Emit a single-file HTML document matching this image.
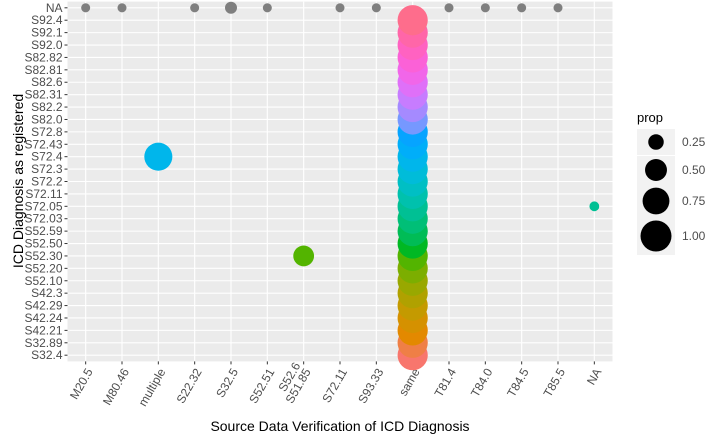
<!DOCTYPE html>
<html><head><meta charset="utf-8"><style>
body{margin:0;background:#fff;}
svg{display:block;font-family:"Liberation Sans",Arial,sans-serif;}
</style></head><body>
<svg id="chart" width="709" height="439"></svg>
<script>
const xCats=["M20.5","M80.46","multiple","S22.32","S32.5","S52.51","S52.6\nS51.85","S72.11","S93.33","same","T81.4","T84.0","T84.5","T85.5","NA"];
const yCats=["S32.4","S32.89","S42.21","S42.24","S42.29","S42.3","S52.10","S52.20","S52.30","S52.50","S52.59","S72.03","S72.05","S72.11","S72.2","S72.3","S72.4","S72.43","S72.8","S82.0","S82.2","S82.31","S82.6","S82.81","S82.82","S92.0","S92.1","S92.4","NA"];
const ptX=["M20.5","M80.46","S22.32","S32.5","S52.51","S72.11","S93.33","T81.4","T84.0","T84.5","T85.5","multiple","S52.6\nS51.85","NA"];
const ptY=["NA","NA","NA","NA","NA","NA","NA","NA","NA","NA","NA","S72.4","S52.30","S72.05"];
const ptProp=[0.085,0.085,0.085,0.15,0.085,0.085,0.085,0.085,0.085,0.085,0.085,0.82,0.45,0.1];
const sameProp=[0.95,0.95,0.95,0.95,0.95,0.95,0.95,0.95,0.95,0.95,0.95,0.95,0.95,0.95,0.95,0.95,0.95,0.95,0.95,0.95,0.95,0.95,0.95,0.95,0.95,0.95,0.95,0.95];
const legendVals=[0.25,0.5,0.75,1.0];

const NS="http://www.w3.org/2000/svg";
const svg=document.getElementById('chart');
const L=67.5,R=612.5,T=1.6,B=361.4;
const dx=(R-L)/xCats.length, dy=(B-T)/yCats.length;
const xs=c=>L+dx*(xCats.indexOf(c)+0.5);
const ys=c=>B-dy*(yCats.indexOf(c)+0.5);
const rs=p=>15.5*Math.sqrt(p);
function el(t,a,p){const e=document.createElementNS(NS,t);for(const k in a)e.setAttribute(k,a[k]);(p||svg).appendChild(e);return e;}
function hcl(h){const Lh=65,C=100,hr=h*Math.PI/180;const u=C*Math.cos(hr),v=C*Math.sin(hr);
 const un=0.1978398,vn=0.4683363;const Y=Math.pow((Lh+16)/116,3);
 const up=u/(13*Lh)+un,vp=v/(13*Lh)+vn;const X=Y*9*up/(4*vp),Z=Y*(12-3*up-20*vp)/(4*vp);
 let r=3.2404542*X-1.5371385*Y-0.4985314*Z,g=-0.9692660*X+1.8760108*Y+0.0415560*Z,b=0.0556434*X-0.2040259*Y+1.0572252*Z;
 const f=c=>{c=c<=0.0031308?12.92*c:1.055*Math.pow(c,1/2.4)-0.055;return Math.round(Math.max(0,Math.min(1,c))*255);};
 return `rgb(${f(r)},${f(g)},${f(b)})`;}
const nLev=yCats.length-1;
const colorOf=c=>{const i=yCats.indexOf(c);if(c==="NA")return "#7f7f7f";return hcl(15+i*360/nLev);};

const panel=el('rect',{x:L,y:T,width:R-L,height:B-T,fill:'#ebebeb'});

xCats.forEach(c=>{const x=xs(c);el('line',{x1:x,x2:x,y1:T,y2:B,stroke:'#fff','stroke-width':1.1});
 el('line',{x1:x,x2:x,y1:B,y2:B+3,stroke:'#333','stroke-width':1});
 const g=el('g',{transform:`translate(${x+4},${B+8}) rotate(-60)`});
 
 const lines=c.split('\n');
 lines.forEach((s,k)=>{const t=el('text',{x:0,y:(k-(lines.length-1))*12+4,'text-anchor':'end','font-size':12,fill:'#4d4d4d'},g);t.textContent=s;});
});
yCats.forEach(c=>{const y=ys(c);el('line',{x1:L,x2:R,y1:y,y2:y,stroke:'#fff','stroke-width':1.1});
 el('line',{x1:L-3,x2:L,y1:y,y2:y,stroke:'#333','stroke-width':1});
 const t=el('text',{x:L-5,y:y+4,'text-anchor':'end','font-size':12,fill:'#4d4d4d'});
 t.textContent=c;});

sameProp.forEach((p,i)=>{const c=yCats[i];const cc=el('circle',{cx:xs("same"),cy:ys(c),r:rs(p),fill:colorOf(c)});
 });
ptX.forEach((xc,i)=>{const cc=el('circle',{cx:xs(xc),cy:ys(ptY[i]),r:rs(ptProp[i]),fill:colorOf(ptY[i])});
 });

const xt=el('text',{x:340,y:431,'text-anchor':'middle','font-size':14,fill:'#000'});
xt.textContent="Source Data Verification of ICD Diagnosis";
const yt=el('text',{x:0,y:0,transform:'translate(23,181) rotate(-90)','text-anchor':'middle','font-size':14,fill:'#000'});
yt.textContent="ICD Diagnosis as registered";

const lt=el('text',{x:637,y:122,'font-size':13,fill:'#000'});
lt.textContent="prop";
const ky=[142,170,201,236],kh=[26,28,34,38];
legendVals.forEach((v,i)=>{el('rect',{x:637,y:ky[i]-kh[i]/2,width:38,height:kh[i],fill:'#f2f2f2'});
 const c=el('circle',{cx:656,cy:ky[i],r:rs(v),fill:'#000'});
 
 const t=el('text',{x:682,y:ky[i]+4,'font-size':12,fill:'#4d4d4d'});
 t.textContent=v.toFixed(2);});
</script>
</body></html>
